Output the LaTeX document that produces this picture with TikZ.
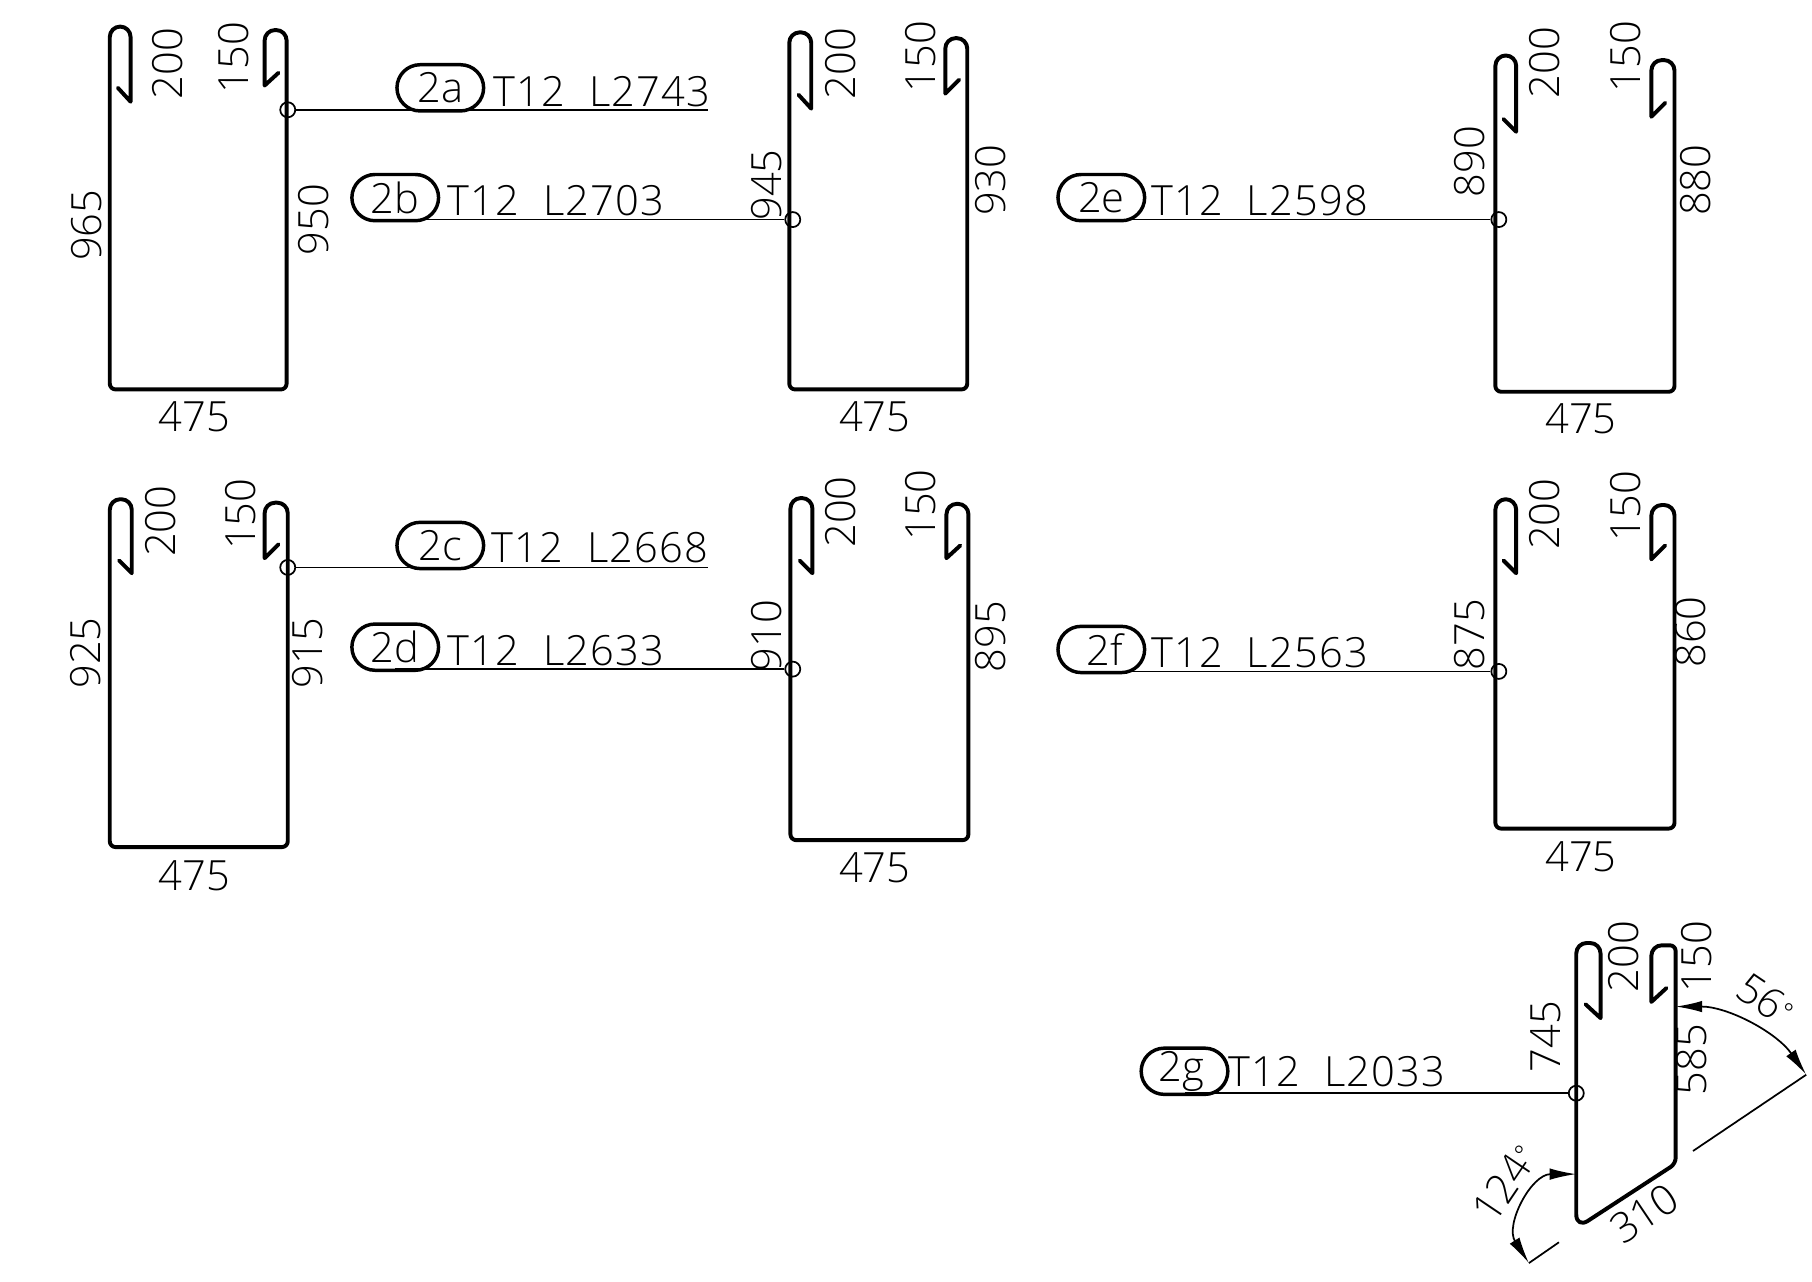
\documentclass[tikz,border=0pt]{standalone}
\usepackage{fontspec}
\setmainfont{Open Sans Light}
\usepackage{tikz}
\usetikzlibrary{arrows.meta, positioning}
\tikzset{
  rebar/.style={line width=3.4pt, line join=round, line cap=round},
  leader/.style={line width=1.5pt},
  dimline/.style={line width=1.5pt},
  dimarc/.style={line width=1.5pt, {Latex[length=23pt,width=10pt]}-{Latex[length=23pt,width=10pt]}},
  dimtext/.style={font=\fontsize{36}{36}\selectfont, inner sep=0pt, yshift=1pt},
  vtext/.style={dimtext, rotate=90},
  bartext/.style={font=\fontsize{36}{36}\selectfont\addfontfeature{LetterSpace=3}, inner sep=0pt, yshift=1pt},
  tagpill/.style={draw, line width=3pt, rounded corners=20pt, minimum width=75pt, minimum height=40pt, inner sep=0pt, font=\fontsize{36}{36}\selectfont},
  tieball/.style={draw, circle, line width=1.5pt, minimum size=13pt, inner sep=0pt}
}
\begin{document}
\begin{tikzpicture}[x=1pt,y=-1pt]
  \useasboundingbox (0,-1) rectangle (1568,1108);

  \draw[rebar] (102,75) -- (113,87) [rounded corners=9pt] -- (113,22) -- (95,22) [rounded corners=5pt] -- (95,336) -- (248,336) [rounded corners=9pt] -- (248,25) -- (229,25) [sharp corners] -- (229,73) -- (241,62);
  \node[vtext] (a200) at (145,55) {200};
  \node[vtext] (a150) at (202,50) {150};
  \node[vtext] (a965) at (75,195) {965};
  \node[vtext] (a950) at (271,190) {950};
  \node[dimtext] (a475) at (168,361) {475};
  \node[tieball] (ca) at (249,94) {};
  \coordinate (enda) at (613,94);
  \draw[leader] (ca.east) -- (enda);
  \node[tagpill] (pa) at (381,75) {\raisebox{-16pt}{2a}};
  \node[bartext] (ta) at (521,79) {T12\ \ L2743};

  \draw[rebar] (691,81) -- (702,93) [rounded corners=9pt] -- (702,27) -- (683,27) [rounded corners=5pt] -- (683,336) -- (837,336) [rounded corners=9pt] -- (837,32) -- (818,32) [sharp corners] -- (818,80) -- (830,68);
  \node[vtext] (b200) at (727,55) {200};
  \node[vtext] (b150) at (797,49) {150};
  \node[vtext] (b945) at (663,160) {945};
  \node[vtext] (b930) at (857,156) {930};
  \node[dimtext] (b475) at (757,361) {475};
  \node[tieball] (cb) at (686,189) {};
  \node[tagpill] (pb) at (342,170) {\raisebox{-16pt}{2b}};
  \draw[leader] (cb.west) -- (cb.west -| pb.south);
  \node[bartext] (tb) at (481,174) {T12\ \ L2703};

  \draw[rebar] (1301,102) -- (1312,113) [rounded corners=9pt] -- (1312,47) -- (1294,47) [rounded corners=5pt] -- (1294,338) -- (1449,338) [rounded corners=9pt] -- (1449,51) -- (1429,51) [sharp corners] -- (1429,100) -- (1441,88);
  \node[vtext] (e200) at (1337,54) {200};
  \node[vtext] (e150) at (1407,49) {150};
  \node[vtext] (e890) at (1272,140) {890};
  \node[vtext] (e880) at (1467,156) {880};
  \node[dimtext] (e475) at (1368,362) {475};
  \node[tieball] (ce) at (1297,189) {};
  \node[tagpill] (pe) at (953,170) {\raisebox{-16pt}{2e}};
  \draw[leader] (ce.west) -- (ce.west -| pe.south);
  \node[bartext] (te) at (1090,174) {T12\ \ L2598};

  \draw[rebar] (103,484) -- (114,495) [rounded corners=9pt] -- (114,431) -- (95,431) [rounded corners=5pt] -- (95,732) -- (249,732) [rounded corners=9pt] -- (249,434) -- (229,434) [sharp corners] -- (229,482) -- (241,470);
  \node[vtext] (c200) at (139,451) {200};
  \node[vtext] (c150) at (208,445) {150};
  \node[vtext] (c925) at (74,565) {925};
  \node[vtext] (c915) at (266,565) {915};
  \node[dimtext] (c475) at (168,758) {475};
  \node[tieball] (cc) at (249,490) {};
  \coordinate (endc) at (613,490);
  \draw[leader] (cc.east) -- (endc);
  \node[tagpill] (pc) at (381,471) {\raisebox{-16pt}{2c}};
  \node[bartext] (tc) at (519,474) {T12\ \ L2668};

  \draw[rebar] (692,484) -- (703,495) [rounded corners=9pt] -- (703,430) -- (684,430) [rounded corners=5pt] -- (684,726) -- (838,726) [rounded corners=9pt] -- (838,435) -- (819,435) [sharp corners] -- (819,482) -- (831,471);
  \node[vtext] (d200) at (727,443) {200};
  \node[vtext] (d150) at (797,437) {150};
  \node[vtext] (d910) at (663,550) {910};
  \node[vtext] (d895) at (857,551) {895};
  \node[dimtext] (d475) at (757,751) {475};
  \node[tieball] (cd) at (686,578) {};
  \node[tagpill] (pd) at (342,559) {\raisebox{-16pt}{2d}};
  \draw[leader] (cd.west) -- (cd.west -| pd.south);
  \node[bartext] (td) at (481,563) {T12\ \ L2633};

  \draw[rebar] (1301,484) -- (1312,495) [rounded corners=9pt] -- (1312,431) -- (1294,431) [rounded corners=5pt] -- (1294,716) -- (1449,716) [rounded corners=9pt] -- (1449,436) -- (1429,436) [sharp corners] -- (1429,483) -- (1441,471);
  \node[vtext] (f200) at (1337,445) {200};
  \node[vtext] (f150) at (1407,438) {150};
  \node[vtext] (f875) at (1272,549) {875};
  \node[vtext] (f860) at (1463,547) {860};
  \node[dimtext] (f475) at (1368,741) {475};
  \node[tieball] (cf) at (1297,580) {};
  \node[tagpill] (pf) at (953,561) {\raisebox{-16pt}{\hspace{6pt}2f}};
  \draw[leader] (cf.west) -- (cf.west -| pf.south);
  \node[bartext] (tf) at (1090,565) {T12\ \ L2563};

  \draw[rebar] (1372,868) -- (1385,880) [rounded corners=9pt] -- (1385,815) -- (1364,815) [rounded corners=12pt] -- (1364,1062) [rounded corners=5pt] -- (1450,1006) -- (1450,817) [rounded corners=9pt] -- (1429,817) [sharp corners] -- (1429,866) -- (1442,854);
  \node[vtext] (g200) at (1405,828) {200};
  \node[vtext] (g150) at (1468,828) {150};
  \node[vtext] (g745) at (1338,897) {745};
  \node[vtext] (g585) at (1464,917) {585};
  \node[dimtext, rotate=34] (g310) at (1423,1050) {310};
  \node[tieball] (cg) at (1364,945) {};
  \node[tagpill] (pg) at (1025,926) {\raisebox{-16pt}{\hspace{-6pt}2g}};
  \draw[leader] (cg.west) -- (cg.west -| pg.south);
  \node[bartext] (tg) at (1157,927) {T12\ \ L2033};

  \coordinate (topa) at (1450,870);
  \coordinate (topb) at (1563,929);
  \coordinate (topc) at (1465,995);
  \draw[dimarc] (topa) .. controls (1495,870) and (1537,892) .. (topb);
  \draw[dimline] (topb) -- (topc);
  \node[dimtext, rotate=-34] (g56) at (1528,865) {56\raisebox{6pt}{\fontsize{22}{22}\selectfont °}};
  \coordinate (lowa) at (1364,1015);
  \coordinate (lowb) at (1323,1092);
  \coordinate (lowc) at (1349,1074);
  \draw[dimarc] (lowa) .. controls (1325,1015) and (1302,1059) .. (lowb);
  \draw[dimline] (lowb) -- (lowc);
  \node[dimtext, rotate=56] (g124) at (1302,1024) {124\raisebox{6pt}{\fontsize{22}{22}\selectfont °}};
\end{tikzpicture}
\end{document}
